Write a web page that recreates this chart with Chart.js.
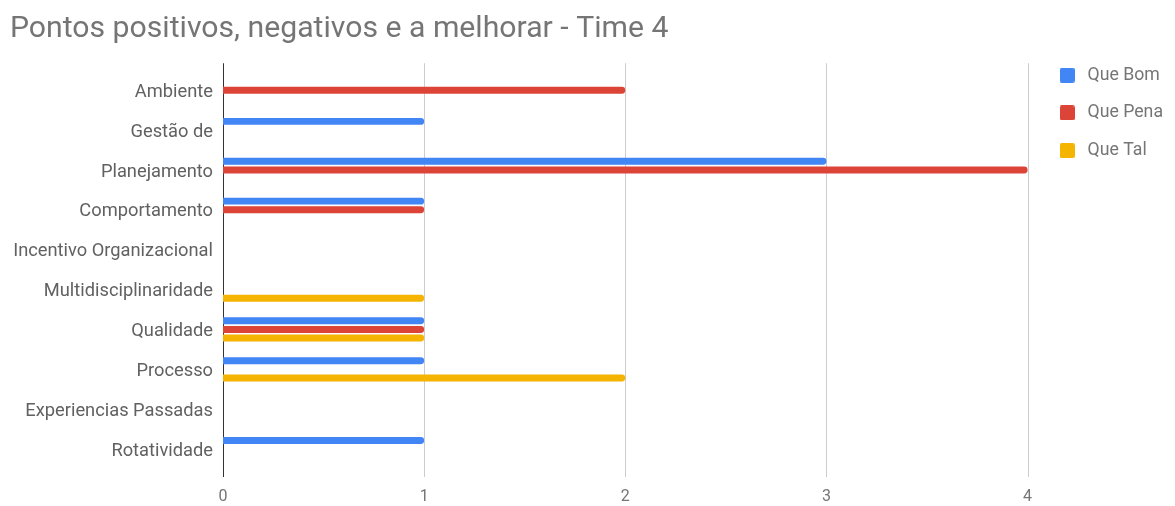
<!DOCTYPE html>
<html>
<head>
<meta charset="utf-8">
<script src="https://cdn.jsdelivr.net/npm/chart.js@4/dist/chart.umd.min.js"></script>
<style>
  html, body { margin: 0; padding: 0; background: #fff; }
  #wrap { width: 1175px; height: 506px; }
</style>
</head>
<body>
<div id="wrap"><canvas id="c" width="1175" height="506"></canvas></div>
<script>
const chartTitle = 'Pontos positivos, negativos e a melhorar - Time 4';
const categories = [
  'Ambiente', 'Gestão de', 'Planejamento', 'Comportamento',
  'Incentivo Organizacional', 'Multidisciplinaridade', 'Qualidade',
  'Processo', 'Experiencias Passadas', 'Rotatividade'
];
const seriesNames = ['Que Bom', 'Que Pena', 'Que Tal'];
const queBom  = [0, 1, 3, 1, 0, 0, 1, 1, 0, 1];
const quePena = [2, 0, 4, 1, 0, 0, 1, 0, 0, 0];
const queTal  = [0, 0, 0, 0, 0, 1, 1, 2, 0, 0];
const xTicks = [0, 1, 2, 3, 4];

const colors = ['#4285F4', '#DB4437', '#F4B400'];
const textColor = '#757575';
const labelFont = 'Roboto, "Noto Sans", sans-serif';

// small rounded squares used as legend markers
function legendSwatch(color) {
  const cv = document.createElement('canvas');
  cv.width = 15; cv.height = 15;
  const g = cv.getContext('2d');
  g.fillStyle = color;
  g.beginPath();
  g.roundRect(0, 0, 15, 15, 2);
  g.fill();
  return cv;
}

// vertical gridlines run a few pixels past the plot band, top and bottom
const gridPlugin = {
  id: 'extendedGrid',
  beforeDatasetsDraw(chart) {
    const { ctx, chartArea, scales } = chart;
    const x = scales.x;
    ctx.save();
    xTicks.forEach(v => {
      const px = Math.round(x.getPixelForValue(v)) + 0.5;
      ctx.beginPath();
      ctx.strokeStyle = v === 0 ? '#333333' : '#cccccc';
      ctx.lineWidth = 1;
      ctx.moveTo(px, chartArea.top - 7);
      ctx.lineTo(px, chartArea.bottom + 8);
      ctx.stroke();
    });
    ctx.restore();
  }
};

const datasets = [queBom, quePena, queTal].map((d, i) => ({
  label: seriesNames[i],
  data: d,
  backgroundColor: colors[i],
  pointStyle: legendSwatch(colors[i]),
  borderWidth: 0,
  borderRadius: 4,
  borderSkipped: 'start',
  categoryPercentage: 0.65,
  barPercentage: 0.8
}));

new Chart(document.getElementById('c'), {
  type: 'bar',
  data: { labels: categories, datasets },
  plugins: [gridPlugin],
  options: {
    indexAxis: 'y',
    responsive: false,
    animation: false,
    layout: { padding: { left: 10, right: 2, top: 0, bottom: 0 } },
    plugins: {
      title: {
        display: true,
        text: chartTitle,
        align: 'start',
        color: textColor,
        font: { family: labelFont, size: 30.2, weight: 'normal', lineHeight: 1.2 },
        padding: { top: 11, bottom: 23 }
      },
      legend: {
        position: 'right',
        align: 'start',
        title: {
          display: true,
          text: ' ',
          font: { size: 12, lineHeight: 1.2 },
          padding: { top: 0, bottom: 32 }
        },
        labels: {
          color: textColor,
          font: { family: labelFont, size: 17.7 },
          usePointStyle: true,
          pointStyleWidth: 23,
          boxWidth: 15,
          boxHeight: 15,
          padding: 20
        }
      },
      tooltip: { enabled: false }
    },
    scales: {
      x: {
        type: 'linear',
        min: 0,
        max: 4.04,
        afterBuildTicks(scale) { scale.ticks = xTicks.map(v => ({ value: v })); },
        afterFit(scale) { scale.height = 37; },
        grid: { display: false, drawTicks: false },
        border: { display: false },
        ticks: {
          color: textColor,
          font: { family: labelFont, size: 16, lineHeight: 1 },
          padding: 20
        }
      },
      y: {
        afterFit(scale) { scale.width = 213; },
        grid: { display: false, drawTicks: false },
        border: { display: false },
        ticks: {
          color: '#616161',
          font: { family: labelFont, size: 18.3 },
          padding: 10,
          labelOffset: 2
        }
      }
    }
  }
});
</script>
</body>
</html>
